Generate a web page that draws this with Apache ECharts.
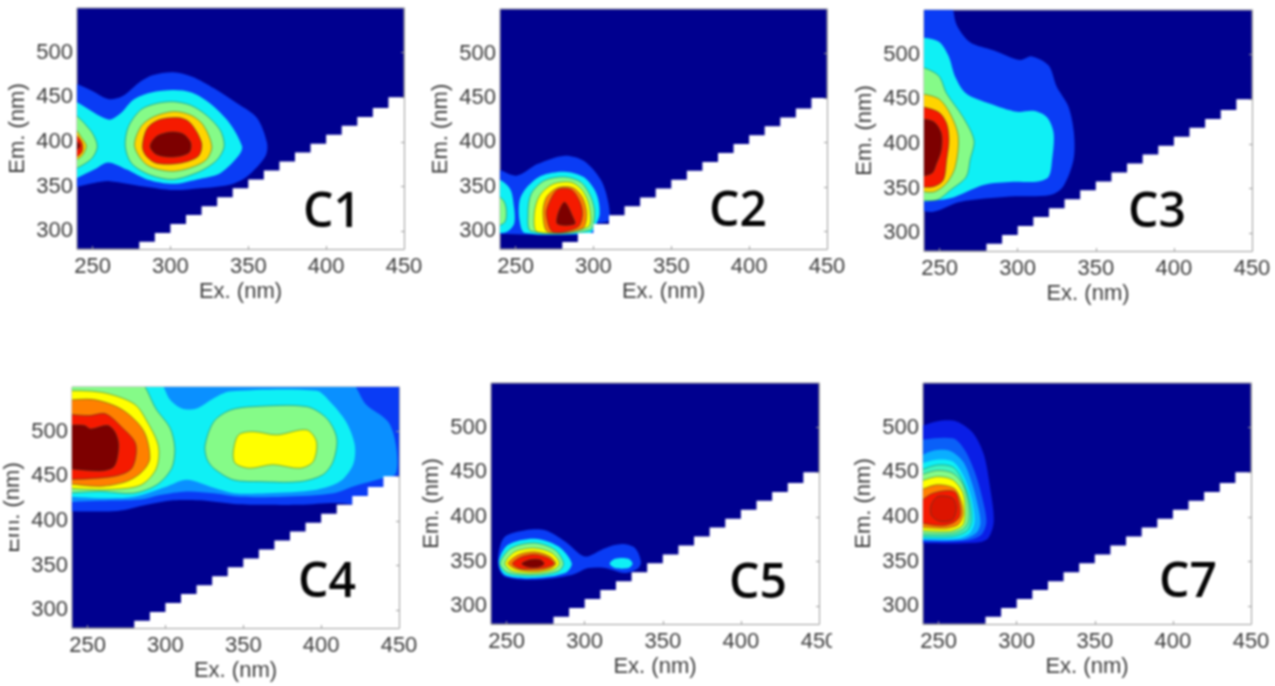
<!DOCTYPE html>
<html>
<head>
<meta charset="utf-8">
<style>
html,body{margin:0;padding:0;background:#fff;overflow:hidden}
#chart{width:1275px;height:686px;filter:blur(0.85px)}
</style>
<script src="https://cdn.jsdelivr.net/npm/echarts@6/dist/echarts.min.js"></script>
</head>
<body>
<div id="chart"></div>
<script>
// Tick labels and axis extents
const exTicks = [250, 300, 350, 400, 450];
const emTicks = [300, 350, 400, 450, 500];
const exRange = [240, 450];
const emRange = [280, 550];

// Contour levels, low to high intensity
const levelColors = ['#00008f', '#0a3cf5', '#0a90ff', '#0ff0f5', '#85fb88', '#ffff00', '#ff8000', '#f51a00', '#7d0000', '#dc1400', '#40f5c0', '#ffd400', '#0a1ee6', '#0a60f8', '#0aaeff'];
const BLUE = 1, AZURE = 2, CYAN = 3, GREEN = 4, YELLOW = 5, ORANGE = 6, RED = 7, DARK = 8, DEEPRED = 9, TEAL = 10, GOLD = 11, DEEPBLUE = 12, MIDBLUE = 13, SKY = 14;
const outlinedLevels = [GREEN, YELLOW, ORANGE, RED, DARK, DEEPRED, TEAL, GOLD];

// Edge of the measured region: [excitation, emission] steps
const stepEx = [280, 290, 300, 310, 320, 330, 340, 350, 360, 370, 380, 390, 400, 410, 420, 430, 440];
const stepEm = [288, 298, 308, 318, 328, 338, 348, 358, 368, 378, 388, 398, 408, 418, 428, 438, 450];

// Contour outlines, pairs of excitation, emission in nm
const c1Bands = [
  [BLUE, [240,468,248.6,458,260,448,269,451,281,468,289,475,302,478,314,473,328,460,343,443,355.5,427,362,399,361,384,349,361,338,352,319,348,302,346,283,350,261,356,251,354,240,348]],
  [CYAN, [240,449,260,425,268,432,276,447,287,455,302,458,314,455,325.5,443,338,421,346,395,344,385,332,365,317,358,302,353,285,358,272,369,260,377,251,369,240,356]],
  [GREEN, [271,395,273,417,281,436,291,443,302,445,313,441,323,430,332,413,334.5,395,330,380,319,367,302,358,287,363,275,376]],
  [GREEN, [240,436,248.6,413,253,395,248.6,380,240,367]],
  [GOLD, [277,395,281,417,289,428,302,434,313,430,321,419,326.6,395,323,380,313,371,300,367,285,374]],
  [GOLD, [240,423,244,402,246,395,243,384,240,376]],
  [RED, [282,395,285,415,293,425,306,427,313,421,320,399,318,384,306,376,291,376,284,385]],
  [RED, [240,415,243,400,243,388,240,378]],
  [DARK, [287,395,291,406,300,411,308,409,313,399,312,388,302,383,291,386]],
  [DARK, [240,405,242,396,240,385]]
];
const c2Bands = [
  [BLUE, [240,373,250.5,362.5,264,375.5,281.5,385,294,379,305,357,309.7,331,309.7,312,300.7,307.6,299.6,297,240,297]],
  [CYAN, [240,362.5,246,349,249,327,249,308,244,299,240,298]],
  [CYAN, [252.6,334.5,257,349,266.5,362.5,281.5,367,294,360.6,302,342,304,319.5,300.7,304.6,297.5,298,256,298,252.6,312]],
  [GREEN, [258,319.5,260,342,268.6,357,281.5,361,292,355,298.5,338,300.7,319.5,297.5,301,260,300]],
  [GREEN, [240,345,242,335,244,325,243,310,240,304]],
  [YELLOW, [262,319.5,265.4,340,274,353,285.7,355,293,345.7,297.5,327,296.4,304.6,264,299]],
  [ORANGE, [267.6,319.5,269.7,338,277,349,286.8,349,293,338,295.7,319.5,293,303,270.8,299]],
  [RED, [269.7,319.5,272,334,277,347,285.7,347,291,334.5,293,319.5,290,304.6,274,299]],
  [DARK, [281.5,332.6,286.8,316,288,308,277,308,277.2,319.5]]
];
const c3Bands = [
  [BLUE, [240,550,255.6,550,261,533,269.5,514,284.4,505,301.5,494,309,498,319.7,488,325,464,332.5,441.6,336,412,335.7,382,329,352,320.8,342.7,295,341,263,335,246,324,240,326]],
  [CYAN, [240,520,249,515,255.6,499,260,475,267,456.5,282.3,445,299.4,436,310,437,318.6,430,323,412,322,382,319.7,363,312,357.6,297,357.6,278,354,256.7,339,240,335]],
  [GREEN, [240,488,249,477,254.5,456.5,265,430,272,404,269.5,382,267,363,256.7,348,248,337,240,337]],
  [GOLD, [240,457,249,451,256.7,434,262,408,260,374,254.5,356,246,346,240,348]],
  [RED, [240,443,249,436,254.5,423,256,404,254.5,382,252.4,359.5,246,352,240,352]],
  [DARK, [240,428.5,246,425,251,412,251,393,248,378,245,367,240,363]]
];
const c4Bands = [
  [BLUE, [240,411,269,411,288,418,305,423,322,423,344,419,365,418,386,418,409,420,450,420,450,550,240,550]],
  [AZURE, [240,421,258,422.5,284,424,296.6,429,313.7,433,331,431,348,427,375.7,427,408,431,420.5,438.6,440,448,448,453.5,448,485,443,511,429,530,415,550,240,550]],
  [CYAN, [293.4,550,303,535.6,310.5,526,320,526,331,537.5,341.5,545,397,545.7,405.6,533.7,416,511,421.6,485,420.5,463,412,444,397,435,365,431,344,431,331,437,313.7,446,301,438.6,279.5,427,258,425.5,240,427.4,240,550]],
  [GREEN, [280.6,550,294.5,524,303,504,306,481.5,304,459,294.5,440.4,279.5,431,258,433,240,431,240,550]],
  [GREEN, [325.5,485,331,511,341.5,524,356.5,528,390.6,528,403.5,515,410,492.7,407.7,466.6,401,451.6,386.4,444,360.7,444,343.6,446,331,459,326.5,470]],
  [YELLOW, [240,546,259,544,280,531,289,509,295.6,483,294,458,284,440,262.4,435,240,436.7]],
  [YELLOW, [343.6,478,347,496.4,356.5,500,371.4,496.4,390.6,502,397,489,395,466.6,386.4,459,369,463,354,459,344.7,464.7]],
  [ORANGE, [240,535,254,536,272,525,286,501,290,470,285,455,275,444,258,438.6,240,442]],
  [RED, [240,520,251,518,261.6,520,272,505,281,486,278.5,459,266.7,449.8,240,446]],
  [DARK, [240,507,248,507,252,503,263,507,267.8,499,270,484,267,461,258,456,240,459]]
];
const c5Bands = [
  [BLUE, [245,361,249,378,262,385,274.6,385,287.4,372.5,298,357,302,355.7,313,365,323.8,369.5,332.3,365,336,350,334.4,342.7,326,337,313,342.7,302.4,342.7,291.7,335,268,329.6,249,333,245,342.7]],
  [CYAN, [245,350,251,368.8,268,375.5,283,367,291.7,348,287.4,337,268,331.5,249,335]],
  [CYAN, [316,347.5,319.5,353,328,353,330.6,347.5,328,342.7,319.5,342.7]],
  [GREEN, [245.8,348,253,365,268,370.7,281,363,286.4,348,283,339,268,334.5,251,337]],
  [YELLOW, [249,348,255.4,361,268,365,279,359.5,283.8,348,280,341,268,337,254,339]],
  [ORANGE, [251,348,257.5,357.6,268,361,277.8,355.7,281.5,347.5,277.8,342,268,339,256.5,341]],
  [RED, [253.7,347.5,258.6,354.6,268,358,276.8,354,280.4,347.5,275.7,343.4,268,341.6,258.6,342]],
  [DARK, [259.7,347.5,265,352,271.4,352,274,347.5,270.3,343.8,264,343.8]]
];
const c7Bands = [
  [DEEPBLUE, [240,499.4,248.5,507,261.4,507,272,494,279,469.5,283,432,285.3,395,281.7,376,274,371,240,370.5]],
  [MIDBLUE, [240,486,259,488,266.7,475,273,451,277.4,425,280.6,395,277.4,380,268,373.6,240,372.5]],
  [SKY, [240,466,246.4,474,257,474,265.6,462,271,439.7,275,413.6,276.8,393,274,382,263.5,374,240,374.5]],
  [CYAN, [240,458,248.5,464,259,462,265.6,447,271,421,273,395,270,382,261.4,376,240,376]],
  [TEAL, [240,450,248.5,458,259,456,265,442,270,417,271,395,268,384,258,378,240,378]],
  [GREEN, [240,445,248.5,452,259,449,265.6,436,269,413.6,269,395,265.7,386,257,381,240,381]],
  [YELLOW, [240,438,248.5,445,259,441.6,265.6,426.6,267,406,265.6,391,257,384,240,385]],
  [ORANGE, [240,428,248.5,436,260,432,264.6,417,265.6,402,262.4,391,253,387,240,389]],
  [RED, [240,413.6,246.4,426.6,260,428.5,263.5,413.6,263.5,400.5,259,393,250.7,390,240,394]],
  [DEEPRED, [245.3,413.6,249.6,423,259,421,261.4,410,259,397,250.7,395,245.3,402]]
];

const panelNames = ['C1', 'C2', 'C3', 'C4', 'C5', 'C7'];
const panelBands = [c1Bands, c2Bands, c3Bands, c4Bands, c5Bands, c7Bands];
const panelBoxes = [
  {left: 77, top: 8, width: 327, height: 241, nameAt: [332, 213]},
  {left: 500, top: 9, width: 327, height: 240, nameAt: [738, 212]},
  {left: 924, top: 10, width: 328, height: 241, nameAt: [1157, 213]},
  {left: 72, top: 387, width: 327, height: 241, nameAt: [327, 583]},
  {left: 491, top: 383, width: 328, height: 241, nameAt: [758, 584]},
  {left: 923, top: 383, width: 328, height: 241, nameAt: [1188, 583]}
];

const gray = '#9c9c9c';
const textGray = '#3c3c3c';
const textStyle = {color: textGray, fontSize: 22, fontFamily: 'Liberation Sans'};

// A contour that reaches the left edge runs on past it, flat, so smoothing leaves no gap; the series clips it.
function bandRenderer(bands) {
  return function (params, api) {
    const band = bands[params.dataIndex];
    const flat = band[1];
    const count = flat.length / 2;
    const onLeft = i => flat[((i + count) % count) * 2] <= exRange[0];
    const em = i => flat[i * 2 + 1] >= emRange[1] ? emRange[1] + 12 : flat[i * 2 + 1];
    const points = [];
    for (let i = 0; i < count; i++) {
      if (onLeft(i)) {
        if (!onLeft(i - 1)) points.push(api.coord([exRange[0] - 6, em(i)]));
        points.push(api.coord([exRange[0] - 24, em(i)]));
        if (!onLeft(i + 1)) points.push(api.coord([exRange[0] - 6, em(i)]));
      } else {
        points.push(api.coord([flat[i * 2] >= exRange[1] ? exRange[1] + 12 : flat[i * 2], em(i)]));
      }
    }
    const outlined = outlinedLevels.indexOf(band[0]) >= 0;
    return {
      type: 'polygon',
      shape: {points: points, smooth: 0.3},
      style: {
        fill: levelColors[band[0]],
        stroke: outlined ? 'rgba(20,70,50,0.55)' : 'none',
        lineWidth: outlined ? 0.8 : 0
      }
    };
  };
}

function stairRenderer(params, api) {
  const points = [api.coord([stepEx[0], emRange[0] - 10])];
  stepEx.forEach(function (ex, i) {
    points.push(api.coord([ex, stepEm[i]]));
    points.push(api.coord([i + 1 < stepEx.length ? stepEx[i + 1] : exRange[1] + 10, stepEm[i]]));
  });
  points.push(api.coord([exRange[1] + 10, emRange[0] - 10]));
  return {type: 'polygon', shape: {points: points}, style: {fill: '#ffffff'}};
}

const option = {
  animation: false,
  backgroundColor: '#ffffff',
  grid: [], xAxis: [], yAxis: [], series: [],
  graphic: []
};

panelBoxes.forEach(function (box, p) {
  const yBase = p * 2;
  option.grid.push({
    left: box.left, top: box.top, width: box.width, height: box.height,
    show: true, backgroundColor: levelColors[0], borderColor: gray, borderWidth: 1
  });
  option.xAxis.push({
    type: 'value', gridIndex: p, min: exRange[0], max: exRange[1], z: 5,
    name: 'Ex. (nm)', nameLocation: 'middle', nameGap: 32, nameTextStyle: textStyle,
    splitLine: {show: false},
    axisLine: {lineStyle: {color: gray}},
    axisTick: {inside: true, length: 3, lineStyle: {color: gray}, customValues: exTicks},
    axisLabel: {customValues: exTicks, margin: 7, showMinLabel: true, showMaxLabel: true, hideOverlap: false, color: textGray, fontSize: 22, fontFamily: 'Liberation Sans'}
  });
  option.yAxis.push({
    type: 'value', gridIndex: p, min: emRange[0], max: emRange[1], z: 5,
    name: 'Em. (nm)', nameLocation: 'middle', nameGap: 48, nameTextStyle: textStyle,
    splitLine: {show: false},
    axisLine: {show: false},
    axisTick: {show: false, customValues: emTicks},
    axisLabel: {customValues: emTicks, margin: 4, color: textGray, fontSize: 22, fontFamily: 'Liberation Sans'}
  });
  option.yAxis.push({
    type: 'value', gridIndex: p, position: 'right', min: emRange[0], max: emRange[1], z: 5,
    splitLine: {show: false},
    axisLine: {lineStyle: {color: gray}},
    axisTick: {inside: true, length: 3, lineStyle: {color: gray}, customValues: emTicks},
    axisLabel: {show: false}
  });
  const bands = panelBands[p];
  option.series.push({
    type: 'custom', name: panelNames[p], xAxisIndex: p, yAxisIndex: yBase, clip: true, silent: true, z: 2,
    renderItem: bandRenderer(bands),
    data: bands.map(function (b) { return [b[1][0], b[1][1]]; })
  });
  option.series.push({
    type: 'custom', name: panelNames[p] + ' edge', xAxisIndex: p, yAxisIndex: yBase, clip: true, silent: true, z: 3,
    renderItem: stairRenderer,
    data: [[stepEx[0], stepEm[0]]]
  });
  option.graphic.push({
    type: 'text', x: box.nameAt[0], y: box.nameAt[1], z: 20,
    style: {text: panelNames[p], fill: '#050505', font: '600 48px "Open Sans"', textAlign: 'center', textVerticalAlign: 'middle'}
  });
});

// The source picture is cropped at two places
option.graphic.push({type: 'rect', x: 832, y: 630, z: 20, shape: {width: 20, height: 30}, style: {fill: '#ffffff'}});
option.graphic.push({type: 'rect', x: 0, y: 520, z: 20, shape: {width: 9, height: 50}, style: {fill: '#ffffff'}});

const chart = echarts.init(document.getElementById('chart'), null, {renderer: 'canvas'});
chart.setOption(option);
</script>
</body>
</html>
